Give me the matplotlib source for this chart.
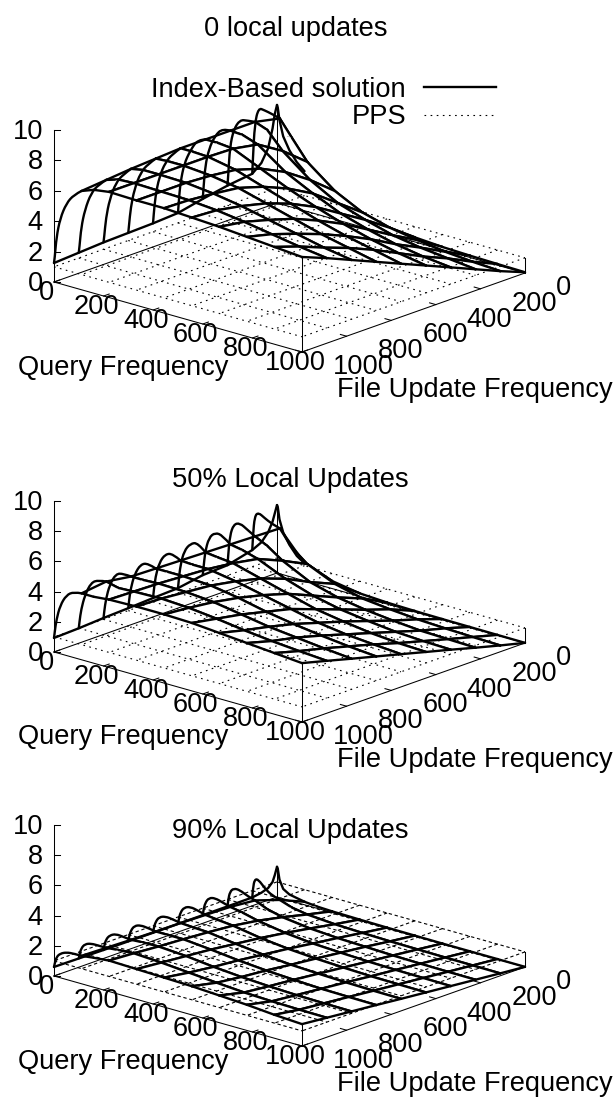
"""Three gnuplot-style surface panels: index-based solution against PPS."""
import matplotlib

matplotlib.use("Agg")
import matplotlib.pyplot as plt
import numpy as np
from matplotlib.patches import PathPatch
from matplotlib.path import Path

plt.rcParams["font.family"] = ["Liberation Sans", "DejaVu Sans"]

# isolines of the surface (gnuplot default isosamples 10)
FILE_UPDATE = [0, 111, 222, 333, 444, 556, 667, 778, 889, 1000]
QUERY = [0, 3, 10, 25, 50, 80, 111, 160, 222, 333, 444, 556, 667, 778, 889, 1000]
QUERY_ISO = [0, 111, 222, 333, 444, 556, 667, 778, 889, 1000]
PPS_LEVEL = 1.0

# rows follow FILE_UPDATE, columns follow QUERY
INDEX_0 = [
    [6.45, 6.30, 5.50, 4.50, 3.70, 3.05, 2.60, 2.00, 1.40, 0.75, 0.40, 0.30, 0.18, 0.12, 0.08, 0.05],
    [2.50, 3.60, 5.80, 6.95, 6.90, 6.80, 6.65, 5.60, 4.30, 2.90, 2.00, 1.50, 1.20, 0.95, 0.80, 0.70],
    [2.30, 3.00, 4.90, 6.10, 6.85, 6.95, 7.00, 6.70, 5.60, 4.20, 3.20, 2.60, 2.10, 1.80, 1.60, 1.40],
    [2.00, 2.70, 4.20, 5.40, 6.40, 7.00, 7.00, 6.95, 6.60, 5.30, 4.40, 3.60, 3.05, 2.60, 2.30, 2.10],
    [1.65, 2.40, 3.70, 5.00, 6.00, 6.85, 7.00, 7.00, 6.90, 6.10, 5.30, 4.60, 4.00, 3.50, 3.10, 2.80],
    [1.55, 2.20, 3.40, 4.70, 5.80, 6.50, 7.00, 7.00, 6.95, 6.60, 6.00, 5.40, 4.80, 4.30, 3.90, 3.50],
    [1.50, 2.00, 3.20, 4.50, 5.70, 6.40, 6.90, 6.95, 6.95, 6.80, 6.50, 6.00, 5.50, 5.00, 4.60, 4.20],
    [1.45, 1.85, 3.10, 4.40, 5.60, 6.30, 6.80, 6.95, 6.95, 6.90, 6.70, 6.40, 6.00, 5.60, 5.20, 4.90],
    [1.35, 1.75, 3.05, 4.30, 5.50, 6.20, 6.65, 6.90, 6.95, 6.90, 6.85, 6.70, 6.45, 6.15, 5.85, 5.60],
    [1.25, 1.60, 3.00, 4.30, 5.40, 6.10, 6.50, 6.80, 6.95, 6.90, 6.90, 6.80, 6.70, 6.55, 6.40, 6.25],
]
INDEX_50 = [
    [4.50, 4.40, 3.60, 2.80, 2.10, 1.50, 1.15, 0.80, 0.50, 0.20, 0.10, 0.06, 0.04, 0.03, 0.02, 0.01],
    [2.10, 3.10, 4.40, 4.70, 4.45, 4.20, 4.05, 3.00, 2.20, 1.40, 0.95, 0.75, 0.60, 0.52, 0.46, 0.42],
    [1.68, 2.40, 3.70, 4.50, 4.70, 4.40, 4.10, 3.70, 3.00, 2.10, 1.60, 1.30, 1.10, 0.95, 0.90, 0.85],
    [1.60, 2.10, 3.20, 4.20, 4.65, 4.60, 4.15, 4.00, 3.70, 2.90, 2.30, 1.90, 1.65, 1.45, 1.35, 1.30],
    [1.32, 1.85, 2.90, 3.90, 4.50, 4.70, 4.20, 4.10, 4.00, 3.50, 3.00, 2.50, 2.20, 1.95, 1.80, 1.73],
    [1.25, 1.75, 2.70, 3.70, 4.40, 4.55, 4.25, 4.20, 4.20, 3.90, 3.50, 3.10, 2.70, 2.45, 2.30, 2.17],
    [1.16, 1.65, 2.50, 3.50, 4.30, 4.50, 4.30, 4.30, 4.30, 4.20, 3.90, 3.50, 3.20, 2.95, 2.75, 2.60],
    [1.09, 1.55, 2.40, 3.40, 4.25, 4.40, 4.35, 4.35, 4.40, 4.35, 4.20, 3.90, 3.60, 3.40, 3.20, 3.03],
    [0.99, 1.45, 2.30, 3.30, 4.25, 4.55, 4.60, 4.40, 4.45, 4.50, 4.40, 4.20, 3.95, 3.75, 3.60, 3.47],
    [0.93, 1.35, 2.20, 3.20, 4.00, 4.35, 4.40, 4.40, 4.50, 4.55, 4.55, 4.50, 4.35, 4.20, 4.05, 3.90],
]
INDEX_90 = [
    [2.00, 1.90, 1.20, 0.65, 0.40, 0.30, 0.20, 0.12, 0.08, 0.05, 0.03, 0.02, 0.01, 0.01, 0.01, 0.01],
    [0.55, 1.20, 1.80, 1.85, 1.40, 1.05, 0.90, 0.62, 0.45, 0.32, 0.26, 0.22, 0.20, 0.18, 0.17, 0.16],
    [0.54, 1.00, 1.55, 1.85, 1.85, 1.60, 1.45, 1.10, 0.85, 0.62, 0.50, 0.44, 0.38, 0.35, 0.33, 0.32],
    [0.54, 0.90, 1.40, 1.80, 1.90, 1.75, 1.60, 1.45, 1.20, 0.90, 0.72, 0.63, 0.56, 0.52, 0.50, 0.48],
    [0.54, 0.85, 1.35, 1.75, 1.90, 1.80, 1.65, 1.55, 1.45, 1.15, 0.95, 0.82, 0.74, 0.68, 0.66, 0.64],
    [0.54, 0.85, 1.30, 1.70, 1.85, 1.80, 1.70, 1.65, 1.60, 1.35, 1.15, 1.00, 0.92, 0.86, 0.82, 0.80],
    [0.55, 0.85, 1.30, 1.70, 1.85, 1.80, 1.72, 1.72, 1.72, 1.55, 1.35, 1.20, 1.10, 1.02, 0.99, 0.97],
    [0.56, 0.85, 1.30, 1.65, 1.85, 1.80, 1.75, 1.80, 1.82, 1.70, 1.50, 1.35, 1.25, 1.18, 1.15, 1.13],
    [0.58, 0.85, 1.30, 1.65, 1.80, 1.80, 1.80, 1.88, 1.95, 1.85, 1.70, 1.55, 1.42, 1.35, 1.31, 1.29],
    [0.60, 0.85, 1.30, 1.60, 1.80, 1.85, 1.85, 1.95, 2.05, 2.00, 1.95, 1.90, 1.80, 1.70, 1.55, 1.45],
]

# the q=0 isoline climbs to the spike between u=0 and the first grid row
EDGE_UPDATE = [10, 20, 40, 70]
EDGE_0 = [5.90, 5.00, 3.80, 3.00]
EDGE_50 = [4.00, 3.50, 2.90, 2.40]
EDGE_90 = [1.50, 1.10, 0.80, 0.65]

QUERY_TICKS = [0, 200, 400, 600, 800, 1000]
UPDATE_TICKS = [0, 200, 400, 600, 800, 1000]
Z_TICKS = [0, 2, 4, 6, 8, 10]

FONT = 19.6
THICK = 1.7
THIN = 0.75
TEXT_DROP = 2  # va="center" sits a little high against the reference

fig = plt.figure(figsize=(6.16, 10.98), dpi=100)
ax = fig.add_axes([0, 0, 1, 1])
ax.set_xlim(0, 616)
ax.set_ylim(1098, 0)
ax.axis("off")


def make_view(origin_y, z_scale):
    """Affine view of one panel, the same kind of projection gnuplot uses."""

    def view(q, u, z):
        q, u, z = np.asarray(q, float), np.asarray(u, float), np.asarray(z, float)
        x = 54 + 0.248 * q + 0.223 * (1000 - u)
        y = origin_y + 0.070 * q - 0.079 * (1000 - u) - z_scale * z
        return x, y

    return view


def label(x, y, s, ha="center", zorder=5):
    ax.text(x, y + TEXT_DROP, s, fontsize=FONT, ha=ha, va="center", zorder=zorder)


def solid(x, y, zorder=1):
    ax.plot(x, y, color="black", lw=THICK, zorder=zorder, solid_capstyle="round", solid_joinstyle="round")


def rounded(x, y, zorder=1.5):
    # quadratic joins so the steep arcs do not show their sample points
    pts = np.column_stack([x, y])
    verts, codes = [pts[0]], [Path.MOVETO]
    for k in range(1, len(pts) - 1):
        end = pts[k + 1] if k == len(pts) - 2 else (pts[k] + pts[k + 1]) / 2
        verts += [pts[k], end]
        codes += [Path.CURVE3, Path.CURVE3]
    ax.add_patch(PathPatch(Path(verts, codes), fill=False, ec="black", lw=THICK, zorder=zorder, capstyle="round"))


def draw_surface(view, grid, edge):
    # far corner first, later cells paint over what they hide
    z = np.array(grid)
    ridge = QUERY.index(111)
    for i in range(ridge, len(QUERY) - 1):
        for j in range(len(FILE_UPDATE) - 1):
            q = [QUERY[i], QUERY[i + 1], QUERY[i + 1], QUERY[i]]
            u = [FILE_UPDATE[j], FILE_UPDATE[j], FILE_UPDATE[j + 1], FILE_UPDATE[j + 1]]
            h = [z[j, i], z[j, i + 1], z[j + 1, i + 1], z[j + 1, i]]
            x, y = view(q, u, h)
            ax.fill(x, y, color="white", lw=0, zorder=1)
            solid(x[:2], y[:2])
            solid(x[2:], y[2:])
            if QUERY[i] in QUERY_ISO:
                solid([x[3], x[0]], [y[3], y[0]])
            if QUERY[i + 1] in QUERY_ISO:
                solid(x[1:3], y[1:3])
    # the steep part in front of the ridge is not hidden by the cells above
    for j, u in enumerate(FILE_UPDATE):
        q = QUERY[: ridge + 1]
        x, y = view(q, [u] * len(q), z[j, : ridge + 1])
        if u == 0:
            solid(x, y, zorder=1.5)
        else:
            rounded(x, y)
    edge_u = [0] + EDGE_UPDATE + FILE_UPDATE[1:]
    edge_z = [z[0, 0]] + edge + list(z[1:, 0])
    x, y = view([0] * len(edge_u), edge_u, edge_z)
    solid(x, y, zorder=1.5)


def draw_plane(view, dash):
    for q in QUERY_ISO:
        x, y = view([q, q], [0, 1000], [PPS_LEVEL, PPS_LEVEL])
        ax.plot(x, y, color="black", lw=0.8, ls=(0, dash), zorder=2)
    for u in FILE_UPDATE:
        x, y = view([0, 1000], [u, u], [PPS_LEVEL, PPS_LEVEL])
        ax.plot(x, y, color="black", lw=0.8, ls=(0, dash), zorder=2)


def draw_box(view, grid):
    z = np.array(grid)
    edges = [([0, 1000], [1000, 1000]), ([1000, 1000], [1000, 0]), ([0, 1000], [0, 0]), ([0, 0], [0, 1000])]
    for q, u in edges:
        x, y = view(q, u, [0, 0])
        ax.plot(x, y, color="black", lw=THIN, zorder=3)
    # corner poles run from the base up to the highest surface there
    for q, u, top in [
        (1000, 1000, max(z[-1, -1], PPS_LEVEL)),
        (1000, 0, max(z[0, -1], PPS_LEVEL)),
        (0, 0, z[0].max()),
    ]:
        x, y = view([q, q], [u, u], [0, top])
        ax.plot(x, y, color="black", lw=THIN, zorder=3)
    x, y = view([0, 0], [1000, 1000], [0, Z_TICKS[-1]])
    ax.plot(x, y, color="black", lw=THIN, zorder=3)
    for t in Z_TICKS:
        x, y = view(0, 1000, t)
        ax.plot([x, x + 6], [y, y], color="black", lw=THIN, zorder=3)
        label(43, y, str(t), ha="right", zorder=4)
    for t in QUERY_TICKS:
        x, y = view([t, t], [1000, 975], [0, 0])
        ax.plot(x, y, color="black", lw=THIN, zorder=3)
        label(x[0] - 7, y[0] + 8.5, str(t), zorder=4)
    for t in UPDATE_TICKS:
        x, y = view([1000, 975], [t, t], [0, 0])
        ax.plot(x, y, color="black", lw=THIN, zorder=3)
        label(x[0] + 31, y[0] + 13, str(t), ha="left", zorder=4)


panels = [
    ("0 local updates", 296, 27, 282, 15.2, INDEX_0, EDGE_0, (1.5, 4), 366, 388),
    ("50% Local Updates", 290, 478, 652, 15.1, INDEX_50, EDGE_50, (1.5, 4), 735, 758),
    ("90% Local Updates", 290, 829, 976, 15.1, INDEX_90, EDGE_90, (3, 2.5), 1060, 1082),
]

for title, title_x, title_y, origin_y, z_scale, grid, edge, dash, q_label_y, u_label_y in panels:
    view = make_view(origin_y, z_scale)
    draw_surface(view, grid, edge)
    draw_plane(view, dash)
    draw_box(view, grid)
    label(title_x, title_y, title)
    label(123, q_label_y, "Query Frequency")
    label(474.5, u_label_y, "File Update Frequency")

# legend only sits in the first panel
label(406, 88, "Index-Based solution", ha="right")
label(406, 115, "PPS", ha="right")
ax.plot([424, 496], [87, 87], color="black", lw=THICK, zorder=5)
ax.plot([424, 494], [115, 115], color="black", lw=0.8, ls=(0, (1.5, 4)), zorder=5)

fig.savefig("out.png", dpi=100)
